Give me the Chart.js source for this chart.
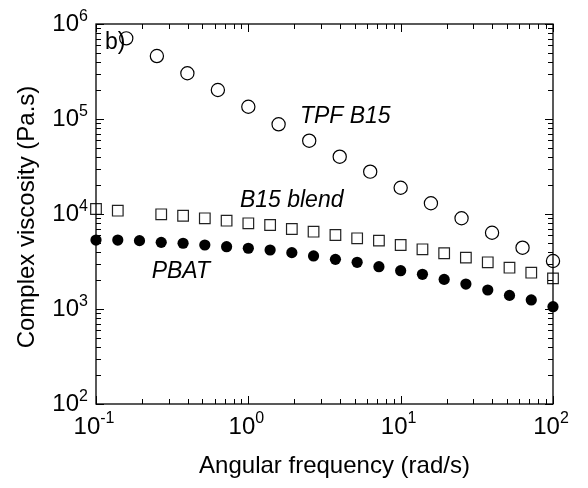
<!DOCTYPE html>
<html>
<head>
<meta charset="utf-8">
<script src="https://cdn.jsdelivr.net/npm/chart.js@4.4.0/dist/chart.umd.min.js"></script>
<style>
  html, body { margin: 0; padding: 0; background: #fff; }
</style>
</head>
<body>
<canvas id="viscChart" width="588" height="488"></canvas>
<script>
// angular frequency (rad/s) - 7 pts/decade sweep and 5 pts/decade sweep
var freqFine = [0.1, 0.139, 0.193, 0.268, 0.373, 0.518, 0.72, 1, 1.39, 1.93, 2.68, 3.73, 5.18, 7.2, 10, 13.9, 19.3, 26.8, 37.3, 51.8, 72, 100];
var freqTPF = [0.158, 0.251, 0.398, 0.631, 1, 1.58, 2.51, 3.98, 6.31, 10, 15.8, 25.1, 39.8, 63.1, 100];

// complex viscosity (Pa.s)
var etaPBAT = [5320, 5320, 5240, 5030, 4920, 4720, 4530, 4360, 4180, 3920, 3620, 3330, 3100, 2790, 2530, 2320, 2050, 1830, 1585, 1390, 1245, 1057];
var etaBlend = [11290, 10830, null, 9930, 9590, 9010, 8500, 7980, 7660, 6950, 6510, 6010, 5550, 5240, 4720, 4250, 3860, 3470, 3100, 2720, 2410, 2100];
var etaTPF = [706000, 460000, 303000, 202000, 134600, 87900, 59100, 40100, 27900, 18900, 12970, 9020, 6350, 4420, 3200];

// decade tick labels (exponents of 10)
var xExponents = ['-1', '0', '1', '2'];
var yExponents = ['2', '3', '4', '5', '6'];

var FONT = "'Liberation Sans', Arial, sans-serif";

function pairs(xs, ys) {
    var out = [];
    for (var i = 0; i < xs.length; i++) {
        if (ys[i] !== null) out.push({ x: xs[i], y: ys[i] });
    }
    return out;
}

// series names written next to the data, in data coordinates
var notes = [
    { text: 'b)', x: 0.1146, y: 546000, italic: false },
    { text: 'TPF B15', x: 2.18, y: 91400, italic: true },
    { text: 'B15 blend', x: 0.88, y: 11860, italic: true },
    { text: 'PBAT', x: 0.232, y: 2100, italic: true }
];

var framePlugin = {
    id: 'framePlugin',
    afterDatasetsDraw: function (chart) {
        var ctx = chart.ctx;
        var a = chart.chartArea;
        var xs = chart.scales.x, ys = chart.scales.y;
        ctx.save();
        ctx.strokeStyle = '#000';
        ctx.lineWidth = 1.3;
        ctx.strokeRect(a.left, a.top, a.right - a.left, a.bottom - a.top);

        // inward ticks on all four sides
        ctx.lineWidth = 1;
        ctx.beginPath();
        var e, m, v, p, len;
        for (e = -1; e <= 2; e++) {
            for (m = 1; m <= 9; m++) {
                v = m * Math.pow(10, e);
                if (v > 100.0001) break;
                p = Math.round(xs.getPixelForValue(v)) + 0.5;
                len = (m === 1) ? 8 : 5;
                ctx.moveTo(p, a.bottom); ctx.lineTo(p, a.bottom - len);
                ctx.moveTo(p, a.top); ctx.lineTo(p, a.top + len);
            }
        }
        for (e = 2; e <= 6; e++) {
            for (m = 1; m <= 9; m++) {
                v = m * Math.pow(10, e);
                if (v > 1000001) break;
                p = Math.round(ys.getPixelForValue(v)) + 0.5;
                len = (m === 1) ? 8 : 5;
                ctx.moveTo(a.left, p); ctx.lineTo(a.left + len, p);
                ctx.moveTo(a.right, p); ctx.lineTo(a.right - len, p);
            }
        }
        ctx.stroke();

        // tick labels 10^n
        ctx.fillStyle = '#000';
        ctx.textBaseline = 'alphabetic';
        var i, px, py, wBase, wExp;
        for (i = 0; i < xExponents.length; i++) {
            px = xs.getPixelForValue(Math.pow(10, Number(xExponents[i])));
            ctx.font = '24px ' + FONT;
            wBase = ctx.measureText('10').width;
            ctx.font = '16px ' + FONT;
            wExp = ctx.measureText(xExponents[i]).width;
            var start = px - 2 - (wBase + wExp) / 2;
            ctx.font = '24px ' + FONT;
            ctx.textAlign = 'left';
            ctx.fillText('10', start, a.bottom + 30);
            ctx.font = '16px ' + FONT;
            ctx.fillText(xExponents[i], start + wBase, a.bottom + 19);
        }
        for (i = 0; i < yExponents.length; i++) {
            py = ys.getPixelForValue(Math.pow(10, Number(yExponents[i])));
            ctx.font = '24px ' + FONT;
            ctx.textAlign = 'right';
            ctx.fillText('10', a.left - 17, py + 7);
            ctx.font = '16px ' + FONT;
            ctx.textAlign = 'left';
            ctx.fillText(yExponents[i], a.left - 17, py - 3);
        }

        // axis titles
        ctx.font = '24px ' + FONT;
        ctx.textAlign = 'center';
        ctx.fillText('Angular frequency (rad/s)', (a.left + a.right) / 2 + 10, a.bottom + 69);
        ctx.save();
        ctx.translate(34, 217);
        ctx.rotate(-Math.PI / 2);
        ctx.fillText('Complex viscosity (Pa.s)', 0, 0);
        ctx.restore();

        // annotations
        ctx.textAlign = 'left';
        notes.forEach(function (n) {
            ctx.font = (n.italic ? 'italic ' : '') + '23px ' + FONT;
            ctx.fillText(n.text, xs.getPixelForValue(n.x), ys.getPixelForValue(n.y));
        });
        ctx.restore();
    }
};

var ctx = document.getElementById('viscChart').getContext('2d');
var chart = new Chart(ctx, {
    type: 'scatter',
    data: {
        datasets: [{
            label: 'TPF B15',
            data: pairs(freqTPF, etaTPF),
            pointStyle: 'circle',
            pointRadius: 6.6,
            backgroundColor: 'rgba(0,0,0,0)',
            borderColor: '#000',
            borderWidth: 1.2,
            clip: false
        }, {
            label: 'B15 blend',
            data: pairs(freqFine, etaBlend),
            pointStyle: 'rect',
            pointRadius: 7.5,
            backgroundColor: 'rgba(0,0,0,0)',
            borderColor: '#222',
            borderWidth: 1.2,
            clip: false
        }, {
            label: 'PBAT',
            data: pairs(freqFine, etaPBAT),
            pointStyle: 'circle',
            pointRadius: 5.6,
            backgroundColor: '#000',
            borderColor: '#000',
            borderWidth: 0,
            clip: false
        }]
    },
    options: {
        responsive: false,
        animation: false,
        layout: {
            padding: { left: 96, right: 35, top: 24, bottom: 84 }
        },
        scales: {
            x: { type: 'logarithmic', min: 0.1, max: 100, display: false },
            y: { type: 'logarithmic', min: 100, max: 1000000, display: false }
        },
        plugins: {
            legend: { display: false },
            tooltip: { enabled: false }
        }
    },
    plugins: [framePlugin]
});
</script>
</body>
</html>
